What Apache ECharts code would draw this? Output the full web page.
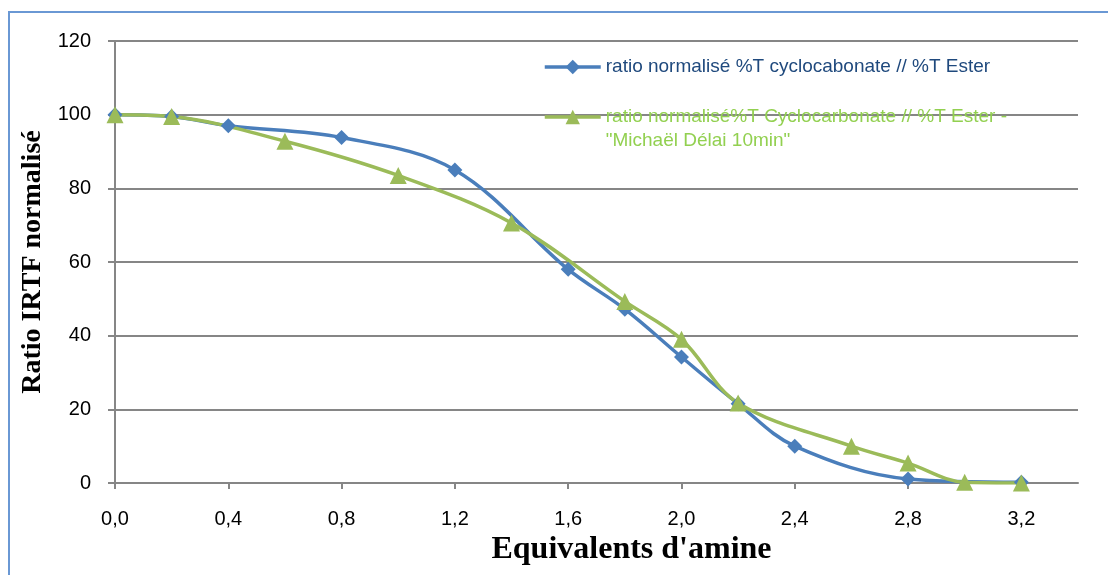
<!DOCTYPE html>
<html>
<head>
<meta charset="utf-8">
<script src="https://cdn.jsdelivr.net/npm/echarts@6/dist/echarts.min.js"></script>
<style>
  html, body { margin: 0; padding: 0; background: #fff; overflow: hidden; }
  #wrap { position: relative; width: 1108px; height: 575px; }
  #frame { position: absolute; left: 8px; top: 11px; width: 1200px; height: 700px;
           border-left: 2px solid #6A98D4; border-top: 2px solid #6A98D4; box-sizing: border-box; }
  #chart { position: absolute; left: 0; top: 0; width: 1108px; height: 575px; }
</style>
</head>
<body>
<div id="wrap">
  <div id="frame"></div>
  <div id="chart"></div>
</div>
<script>
// Normalised IR ratio against amine equivalents
const seriesNames = [
  'ratio normalisé %T cyclocabonate // %T Ester',
  'ratio normalisé%T Cyclocarbonate // %T Ester -\n"Michaël Délai 10min"'
];
const xBlue = [0.0, 0.2, 0.4, 0.8, 1.2, 1.6, 1.8, 2.0, 2.2, 2.4, 2.8, 3.2];
const yBlue = [100, 99.5, 97, 93.8, 85, 58, 47.2, 34.2, 21.5, 10, 1.1, 0.2];
const xGreen = [0.0, 0.2, 0.6, 1.0, 1.4, 1.8, 2.0, 2.2, 2.6, 2.8, 3.0, 3.2];
const yGreen = [100, 99.5, 92.8, 83.5, 70.6, 49.3, 39, 21.7, 10, 5.4, 0.2, 0];
const xTicks = [0.0, 0.4, 0.8, 1.2, 1.6, 2.0, 2.4, 2.8, 3.2];

const zip = (xs, ys) => xs.map((x, i) => [x, ys[i]]);
const axisGrey = '#868686';
const labelFont = 'Liberation Sans';

const chart = echarts.init(document.getElementById('chart'), null, { renderer: 'canvas' });
chart.setOption({
  animation: false,
  backgroundColor: 'transparent',
  grid: { left: 115, right: 30, top: 41, bottom: 92, containLabel: false },
  legend: {
    orient: 'vertical',
    left: 543,
    top: 55,
    padding: 0,
    itemWidth: 56,
    itemHeight: 18,
    itemGap: 2,
    lineStyle: { width: 3.5 },
    textStyle: { fontFamily: labelFont, fontSize: 19, lineHeight: 24 },
    // the blank leading line keeps the first text line level with the legend icon
    formatter: name => name.indexOf('\n') >= 0 ? '\n' + name : name,
    data: [
      { name: seriesNames[0], textStyle: { color: '#1F497D' } },
      { name: seriesNames[1], textStyle: { color: '#92D050' } }
    ]
  },
  xAxis: {
    type: 'value',
    min: 0,
    max: 3.4,
    interval: 0.4,
    name: "Equivalents d'amine",
    nameLocation: 'middle',
    nameGap: 50,
    nameTextStyle: {
      fontFamily: 'Liberation Serif', fontWeight: 'bold', fontSize: 32, color: '#000',
      padding: [0, 0, 0, 70]
    },
    axisLine: { show: true, lineStyle: { color: axisGrey, width: 2 } },
    axisTick: { show: true, length: 6, lineStyle: { color: axisGrey, width: 2 }, customValues: xTicks },
    axisLabel: {
      margin: 26, fontFamily: labelFont, fontSize: 20, color: '#000',
      customValues: xTicks,
      formatter: v => v.toFixed(1).replace('.', ',')
    },
    splitLine: { show: false }
  },
  yAxis: {
    type: 'value',
    min: 0,
    max: 120,
    interval: 20,
    name: 'Ratio IRTF normalisé',
    nameLocation: 'middle',
    nameGap: 58,
    nameTextStyle: { fontFamily: 'Liberation Serif', fontWeight: 'bold', fontSize: 28, color: '#000' },
    axisLine: { show: true, lineStyle: { color: axisGrey, width: 2 } },
    axisTick: { show: true, length: 7, lineStyle: { color: axisGrey, width: 2 } },
    axisLabel: { margin: 24, fontFamily: labelFont, fontSize: 20, color: '#000' },
    splitLine: { show: true, lineStyle: { color: axisGrey, width: 2 } }
  },
  series: [
    {
      name: seriesNames[0],
      type: 'line',
      data: zip(xBlue, yBlue),
      smooth: 0.35,
      symbol: 'diamond',
      symbolSize: 15,
      itemStyle: { color: '#4A7EBB' },
      lineStyle: { color: '#4A7EBB', width: 3.5 }
    },
    {
      name: seriesNames[1],
      type: 'line',
      data: zip(xGreen, yGreen),
      smooth: 0.35,
      symbol: 'triangle',
      symbolSize: 17,
      itemStyle: { color: '#9BBB59' },
      lineStyle: { color: '#9BBB59', width: 3.5 }
    }
  ]
});
</script>
</body>
</html>
